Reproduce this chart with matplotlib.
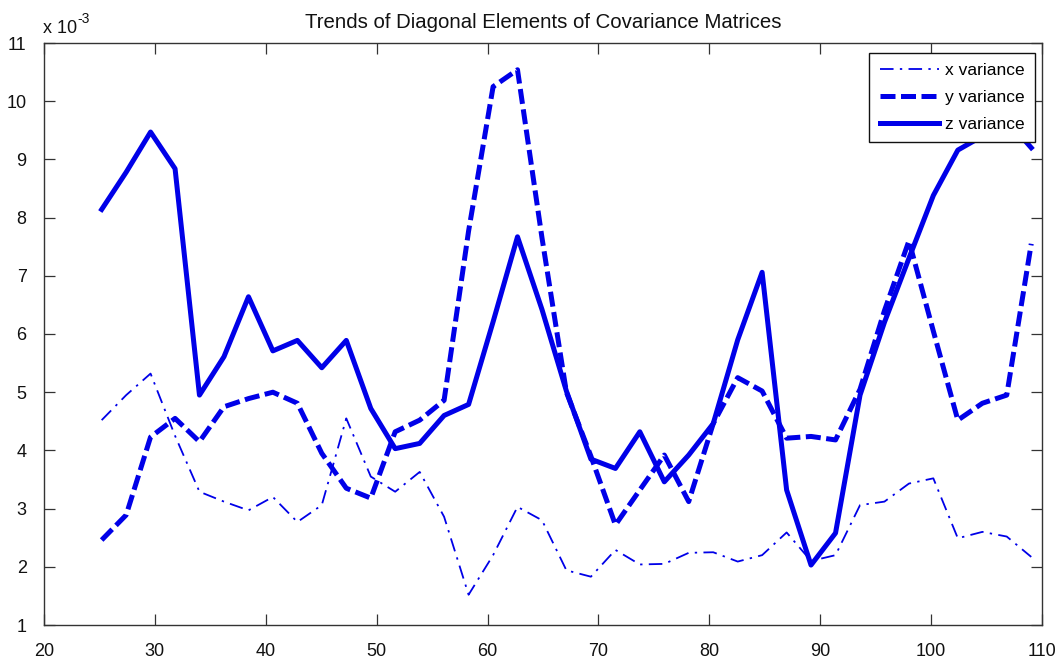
import matplotlib
matplotlib.use("Agg")
import matplotlib.pyplot as plt

plt.rcParams["font.family"] = ["Liberation Sans", "DejaVu Sans"]

# Sample positions along the horizontal axis
frames = [25.20, 27.41, 29.61, 31.82, 34.02, 36.23, 38.44, 40.64, 42.85, 45.05,
          47.26, 49.47, 51.67, 53.88, 56.08, 58.29, 60.50, 62.70, 64.91, 67.11,
          69.32, 71.53, 73.73, 75.94, 78.14, 80.35, 82.56, 84.76, 86.97, 89.17,
          91.38, 93.59, 95.79, 98.00, 100.20, 102.41, 104.62, 106.82, 109.03]

# Diagonal elements of the covariance matrices (units of 1e-3)
x_var = [4.52, 4.95, 5.32, 4.25, 3.29, 3.12, 2.97, 3.20, 2.77, 3.06,
         4.55, 3.55, 3.29, 3.63, 2.86, 1.52, 2.20, 3.03, 2.80, 1.94,
         1.83, 2.29, 2.04, 2.05, 2.24, 2.25, 2.09, 2.20, 2.59, 2.10,
         2.20, 3.06, 3.12, 3.43, 3.52, 2.49, 2.60, 2.52, 2.17]
y_var = [2.46, 2.89, 4.23, 4.55, 4.15, 4.75, 4.89, 5.00, 4.81, 3.95,
         3.35, 3.18, 4.32, 4.52, 4.86, 7.77, 10.25, 10.54, 7.65, 5.00,
         3.90, 2.72, 3.32, 3.92, 3.12, 4.46, 5.25, 5.02, 4.21, 4.24,
         4.18, 5.05, 6.40, 7.60, 6.05, 4.52, 4.81, 4.95, 7.55]
z_var = [8.14, 8.78, 9.47, 8.84, 4.95, 5.61, 6.64, 5.71, 5.89, 5.42,
         5.89, 4.72, 4.03, 4.12, 4.60, 4.79, 6.21, 7.67, 6.42, 5.02,
         3.85, 3.69, 4.32, 3.46, 3.92, 4.46, 5.90, 7.06, 3.32, 2.03,
         2.58, 4.95, 6.20, 7.30, 8.38, 9.16, 9.40, 9.68, 9.20]

labels = ["x variance", "y variance", "z variance"]
x_ticks = list(range(20, 111, 10))
y_ticks = list(range(1, 12))

W, H = 1062, 660
fig = plt.figure(figsize=(W / 100, H / 100), dpi=100)
ax = fig.add_axes([44 / W, 35 / H, (1042 - 44) / W, (625 - 43) / H])

blue = "#0000e8"
ax.plot(frames, x_var, color=blue, lw=1.3, linestyle=(0, (7.5, 3.5, 1.3, 3.5)),
        label=labels[0])
ax.plot(frames, y_var, color=blue, lw=3.6, linestyle=(0, (3, 1.1)),
        label=labels[1])
ax.plot(frames, z_var, color=blue, lw=3.6, linestyle="-", label=labels[2])

ax.set_xlim(20, 110)
ax.set_ylim(1, 11)
ax.set_xticks(x_ticks)
ax.set_yticks(y_ticks)
ax.tick_params(direction="in", length=8, width=0.9, top=True, right=True,
               labelsize=13, colors="#333333", labelcolor="#111111")
ax.tick_params(axis="x", pad=13)
ax.tick_params(axis="y", pad=12.5)
for sp in ax.spines.values():
    sp.set_color("#333333")
    sp.set_linewidth(1.0)

ax.set_title("Trends of Diagonal Elements of Covariance Matrices",
             fontsize=14.7, pad=11, color="#111111")

# exponent label for the y axis
fig.text(43 / W, 1 - 32.7 / H, "x 10", fontsize=13, va="baseline",
         color="#111111")
fig.text(77 / W, 1 - 23 / H, "-3", fontsize=10, va="baseline",
         color="#111111")

leg = ax.legend(loc="upper right", bbox_to_anchor=(1035 / W, 1 - 53 / H),
                bbox_transform=fig.transFigure, fontsize=12.5, fancybox=False,
                framealpha=1, edgecolor="#111111", handlelength=3.45,
                handletextpad=0.34, labelspacing=0.68, borderpad=0.58,
                borderaxespad=0)
leg.get_frame().set_linewidth(1.0)

fig.savefig("out.png", dpi=100)
